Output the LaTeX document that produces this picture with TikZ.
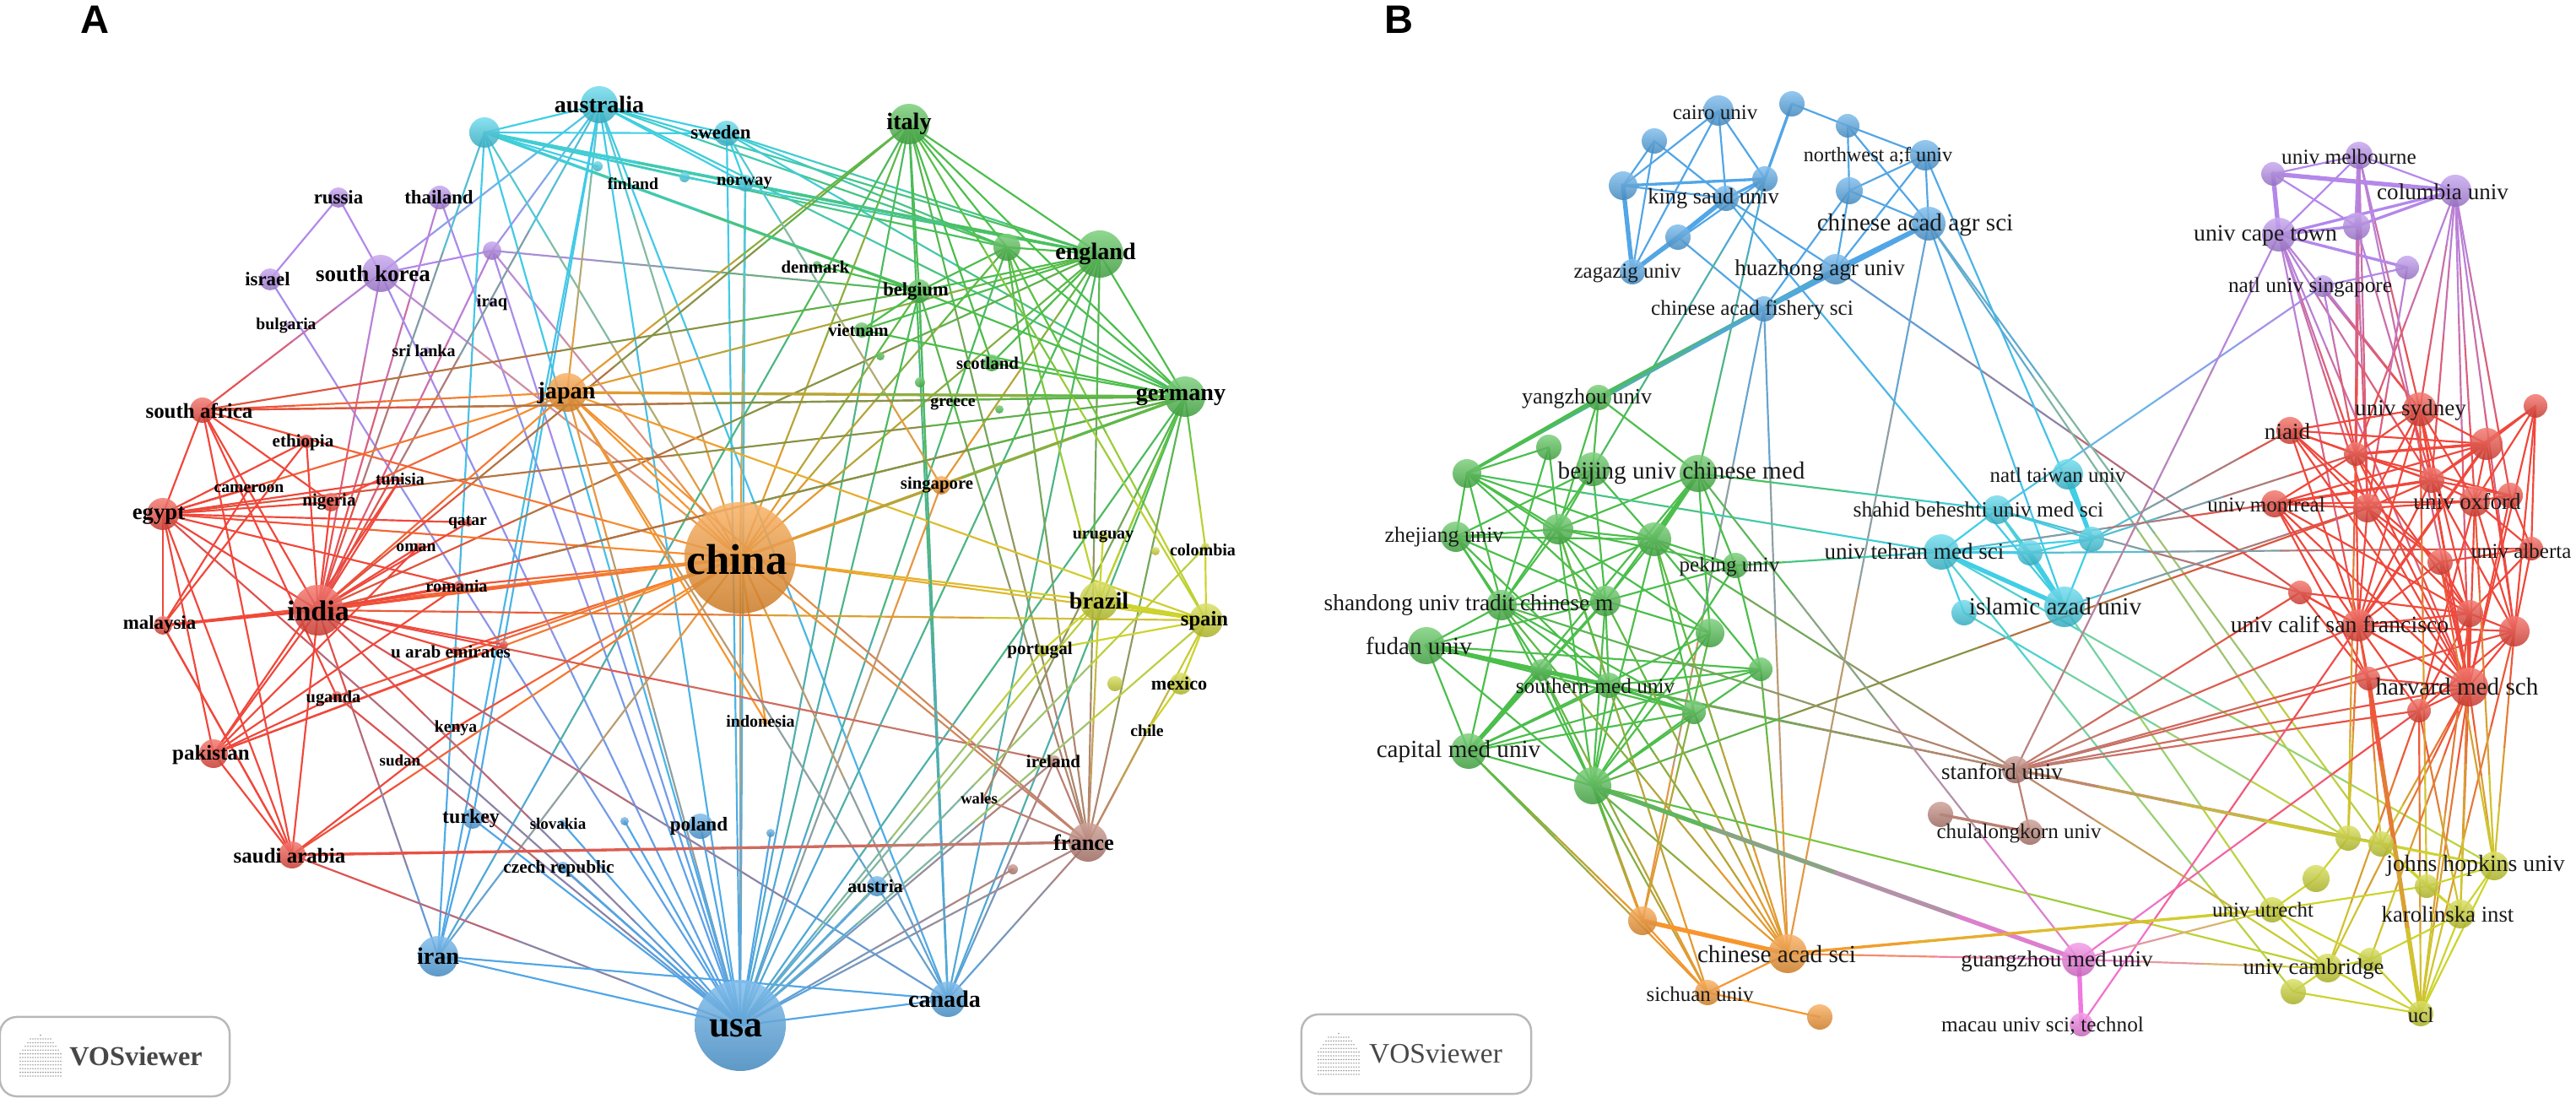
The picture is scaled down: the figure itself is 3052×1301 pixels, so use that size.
\documentclass[tikz,border=0pt]{standalone}
\usepackage{fontspec}
\setmainfont{Liberation Serif}
\newfontfamily\panelfont{Liberation Sans}
\usetikzlibrary{backgrounds, calc}

\definecolor{vred}{HTML}{F0483C}
\definecolor{vgreen}{HTML}{4CBE4C}
\definecolor{vblue}{HTML}{52A6E6}
\definecolor{vorange}{HTML}{F7962E}
\definecolor{vcyan}{HTML}{40CFE6}
\definecolor{vpurple}{HTML}{B488EA}
\definecolor{vyellow}{HTML}{CCD42E}
\definecolor{vbrown}{HTML}{BC8074}
\definecolor{vpink}{HTML}{F078E0}

\tikzset{
  orb/.style={circle, inner sep=0pt, shade, top color=#1!72!white, bottom color=#1!82!black, fill opacity=.86},
  edgeline/.style={line width=.62pt, line cap=round},
  edgethick/.style={line width=1.5pt, line cap=round},
  edgemid/.style={line width=.95pt, line cap=round},
  countrylab/.style={inner sep=0pt, text=black},
  instlab/.style={inner sep=0pt, text=black!90},
  panellab/.style={inner sep=0pt, font=\panelfont\bfseries\fontsize{13.4}{13.4}\selectfont},
  vosbox/.style={draw=black!28, line width=.7pt, rounded corners=.2cm, minimum width=2.72cm, minimum height=.94cm},
  vostext/.style={inner sep=0pt, text=black!72, font=\fontsize{9.5}{9.5}\selectfont}
}

\newcommand{\nlink}[3]{%
  \foreach \ta/\tb/\pc in {0/.25/88, .25/.5/63, .5/.75/37, .75/1/12} {
    \edef\mixcol{\csname nc#1\endcsname!\pc!\csname nc#2\endcsname}
    \draw[#3,color=\mixcol] ($(#1.center)!\ta!(#2.center)$) -- ($(#1.center)!\tb!(#2.center)$);
  }}
\newcommand{\vosdots}[2]{%
  \foreach \i in {-8,...,8} {
    \pgfmathsetmacro{\rows}{int(2+9*sqrt(1-(\i/9)*(\i/9)))}
    \foreach \j in {0,...,\rows}
      \fill[black!38] (#1+\i*3,#2+24-\j*4.4) circle (.9);
  }}

\begin{document}
\begin{tikzpicture}[x=.01cm,y=-.01cm]
  \useasboundingbox (0,0) rectangle (3052,1301);

  % nodes of panel A
  \foreach \n/\x/\y/\r/\cl in {
    au/710/124/22/vcyan, cy/574/157/18/vcyan, fi/708/197/6/vcyan, se/861/158/15/vcyan, no/883/217/10/vcyan, cs/811/210/6/vcyan,
    ru/401/234/12/vpurple, th/521/234/14/vpurple, pd/583/297/11/vpurple, iq/583/359/3/vpurple, sk/451/324/22/vpurple, il/320/331/13/vpurple, bg/342/385/4/vpurple, sl/506/415/4/vpurple,
    jp/672/465/23/vorange, sg/1115/575/11/vorange, id/907/855/4/vorange, cn/877/661/66/vorange,
    za/240/486/15/vred, et/363/523/8/vred, cam/295/579/5/vred, ng/392/595/11/vred, tn/474/568/3/vred, eg/193/609/19/vred, qa/555/619/5/vred, om/496/648/5/vred,
    in/377/723/30/vred, ro/544/694/6/vred, my/193/741/11/vred, ae/540/771/5/vred, ad/597/764/5/vred, ug/399/825/6/vred, ke/542/861/4/vred, sd/474/901/3/vred, pk/253/893/17/vred, sa/346/1013/16/vred,
    tr/560/970/12/vblue, svk/666/975/4/vblue, bd/740/973/5/vblue, cz/667/1028/7/vblue, ir/519/1133/24/vblue, pl/830/979/15/vblue, bu/913/987/5/vblue, at/1039/1050/12/vblue, ca/1123/1184/21/vblue, us/877/1215/54/vblue,
    it/1077/147/24/vgreen, en/1303/301/28/vgreen, ga/1193/293/16/vgreen, dk/968/314/5/vgreen, be/1089/345/14/vgreen, vn/1021/391/9/vgreen, gb/1043/422/5/vgreen, gc/1090/453/6/vgreen, sc/1175/430/10/vgreen, gr/1129/479/3/vgreen, gd/1184/485/5/vgreen, de/1404/470/24/vgreen,
    uy/1307/636/6/vyellow, yd/1369/653/5/vyellow, co/1428/648/5/vyellow, br/1302/712/23/vyellow, es/1429/735/20/vyellow, pt/1235/771/7/vyellow, ye/1321/810/9/vyellow, mx/1399/810/13/vyellow, cl/1359/866/3/vyellow,
    ie/1249/902/7/vbrown, wl/1165/946/3/vbrown, fr/1289/998/23/vbrown, bn/1200/1030/6/vbrown,
  % nodes of panel B
    cairo/2036/131/18/vblue, bl1/2123/123/15/vblue, bl2/2189/149/14/vblue, bl3/1960/167/15/vblue, nwest/2281/184/18/vblue, bl4/1923/220/17/vblue, bl5/2091/212/15/vblue, king/2045/235/15/vblue, bl6/2191/226/16/vblue, caas/2285/265/20/vblue, bl7/1988/281/15/vblue, zaga/1934/322/15/vblue, huaz/2175/319/18/vblue, fish/2090/366/15/vblue,
    yang/1894/471/15/vgreen, gr1/1835/530/15/vgreen, gr2/1887/556/20/vgreen, bucm/2012/561/22/vgreen, gr3/1738/561/17/vgreen, zhej/1725/636/18/vgreen, gr4/1846/627/18/vgreen, gr5/1960/639/20/vgreen, peki/2056/670/15/vgreen, gr6/1779/717/18/vgreen, gr7/1902/712/18/vgreen, fuda/1690/765/22/vgreen, gr8/2026/750/17/vgreen, gr9/2086/793/14/vgreen, gr10/1826/794/13/vgreen, sout/1906/812/15/vgreen, gr11/2007/844/14/vgreen, capi/1740/890/21/vgreen, gr12/1887/931/22/vgreen,
    or1/1946/1091/17/vorange, cacs/2118/1130/23/vorange, sich/2023/1176/15/vorange, or2/2156/1205/15/vorange,
    tehr/2300/654/21/vcyan, shah/2366/604/17/vcyan, taiw/2450/562/18/vcyan, cy1/2478/639/15/vcyan, cy2/2405/655/15/vcyan, isla/2446/719/24/vcyan, cy3/2327/726/15/vcyan,
    melb/2795/184/16/vpurple, pu1/2693/206/14/vpurple, colu/2909/226/19/vpurple, pu2/2792/268/16/vpurple, cape/2700/278/20/vpurple, pu3/2852/317/14/vpurple, natl/2752/339/13/vpurple,
    syd/2867/485/20/vred, re1/3004/481/14/vred, niaid/2713/510/16/vred, re2/2946/526/19/vred, re3/2791/538/14/vred, re4/2881/569/15/vred, re5/2974/587/15/vred, oxf/2932/594/18/vred, mont/2695/597/16/vred, re6/2805/602/17/vred, alb/2999/650/14/vred, re7/2891/666/15/vred, re8/2725/702/14/vred, ucsf/2794/741/19/vred, re9/2926/727/16/vred, re10/2979/748/18/vred, re11/2806/804/14/vred, harv/2925/814/23/vred, re12/2866/842/14/vred,
    stan/2388/912/16/vbrown, br1/2299/965/15/vbrown, chul/2405/986/15/vbrown,
    ye1/2782/993/15/vyellow, ye2/2821/1000/15/vyellow, john/2955/1026/17/vyellow, ye3/2875/1050/14/vyellow, ye4/2744/1041/16/vyellow, karo/2915/1083/17/vyellow, utre/2692/1078/15/vyellow, camb/2758/1147/17/vyellow, ye5/2808/1137/14/vyellow, ye6/2717/1175/15/vyellow, ucl/2868/1201/15/vyellow,
    guan/2463/1137/20/vpink, maca/2466/1214/14/vpink} {
    \node[orb=\cl, minimum size={2*\r*.01cm}] (\n) at (\x,\y) {};
    \expandafter\xdef\csname nc\n\endcsname{\cl}
  }

  \begin{scope}[on background layer]
    % connectors of panel A
    \foreach \a/\b in {
      ru/il, ru/sk, il/us, th/in, th/us, sk/in, sk/za, sk/us, sk/cn, sk/au, sk/pd, pd/be, pd/au, pd/in, pd/cn, pd/us,
      cy/au, cy/se, cy/no, cy/fi, cy/cs, cy/be, cy/ga, cy/en, cy/us, cy/ir, cy/cn, cy/in, au/se, au/en, au/ga, au/de, au/us, au/ir, au/cn, au/in, au/jp, au/no, au/ca, au/tr,
      se/en, se/ga, se/de, se/us, se/no, no/us, no/cn, no/en, cs/en,
      it/en, it/ga, it/de, it/be, it/us, it/cn, it/in, it/sc, it/jp, it/ca, it/fr, it/ir, en/ga, en/de, en/be, en/us, en/cn, en/jp, en/in, en/ca, en/fr, en/sg,
      ga/de, ga/be, ga/us, ga/cn, ga/fr, ga/es, ga/br, de/us, de/cn, de/jp, de/in, de/co, de/br, de/eg, de/za, de/fr, de/ca,
      be/us, be/cn, be/vn, be/de, be/za, be/fr, be/ca, be/dk, sc/de, sc/en, vn/de, vn/en, sg/cn, sg/de, sg/us, sg/se,
      cn/jp, cn/eg, cn/pk, cn/sa, cn/my, cn/ro, cn/za, cn/ae, cn/us, cn/id, cn/es, cn/br, cn/fr, cn/de, cn/ug, cn/ke, cn/ir, cn/ca,
      jp/in, jp/eg, jp/us, jp/de, jp/es, jp/fr, jp/za, jp/ng, jp/id, jp/ca,
      in/eg, in/pk, in/sa, in/za, in/et, in/ng, in/ae, in/tn, in/qa, in/om, in/us, in/ca, in/es, in/ie, in/ir, in/ad, in/de,
      eg/za, eg/my, eg/pk, eg/sa, eg/et, eg/cam, eg/qa, eg/ng, eg/tn, eg/us, eg/ro,
      za/ng, za/ug, za/de, za/sa, my/et, my/cam, my/sa, pk/sa, pk/ug, pk/om, pk/ro, pk/tn, pk/ad, sa/us, sa/fr, sa/ke, sa/my,
      ug/us, tr/us, svk/us, bd/us, cz/us, pl/us, bu/us, at/us, ir/ca, ir/us, ir/tr, ca/us, ca/fr, ca/be, ca/ie, bn/us, ie/us,
      fr/ie, fr/us, fr/cl, fr/br, fr/es, wl/de, wl/fr, br/us, br/de, br/uy, br/pt, es/pt, es/mx, es/co, es/us, mx/cl, co/us, pt/us, es/it} {
      \nlink{\a}{\b}{edgeline}
    }
    % connectors of panel B
    \foreach \a/\b in {
      bl3/bl4, bl3/king, bl3/zaga, cairo/bl4, cairo/bl5, cairo/king, cairo/zaga, bl4/king, bl5/zaga, bl1/bl2, bl2/nwest, bl2/bl6, bl2/caas, nwest/bl6, nwest/caas, nwest/huaz, bl6/caas, bl6/huaz, bl6/fish, bl7/fish, king/huaz, huaz/re8, king/isla, bl5/gr2, bl5/bucm, caas/isla, caas/ye1, caas/ye2, caas/cacs, fish/cacs, fish/or1, fish/yang, nwest/cy1,
      yang/gr3, yang/gr4, yang/gr2, yang/bucm, gr1/gr3, gr1/gr4, gr1/gr6, gr2/gr4, gr2/gr5, gr2/gr7, gr2/zhej, gr2/gr6, bucm/gr4, bucm/gr7, bucm/peki, bucm/gr8, bucm/capi, bucm/shah, gr3/zhej, gr3/gr4, gr3/gr6, gr3/gr7, gr3/gr5, gr3/gr8, gr3/tehr,
      zhej/gr4, zhej/gr6, zhej/gr5, zhej/gr7, zhej/gr10, zhej/sout, gr4/gr6, gr4/gr5, gr4/gr7, gr4/peki, gr4/sout, gr4/gr12, gr5/peki, gr5/gr7, gr5/gr6, gr5/gr9, gr5/gr11, gr5/gr12, gr5/stan, peki/tehr, peki/gr9, peki/gr12, peki/gr7,
      gr6/fuda, gr6/gr7, gr6/capi, gr6/sout, gr6/gr11, gr6/gr12, gr7/fuda, gr7/gr10, gr7/sout, gr7/gr12, gr7/gr8, gr7/capi, fuda/gr9, fuda/gr11, fuda/gr12, fuda/capi, gr8/gr12, gr8/capi, gr9/capi, gr9/sout, gr9/gr12, gr10/sout, gr10/gr12, gr10/stan, sout/capi, sout/gr11, sout/stan, sout/gr12, gr11/capi, gr11/gr12, capi/gr12,
      capi/or1, capi/sich, gr12/or1, gr12/cacs, gr12/sich, gr12/camb, gr12/re6, gr4/sich, gr6/cacs, gr7/cacs, gr5/cacs, gr8/or1, gr9/cacs, gr11/cacs, sout/cacs, gr10/sich, bucm/guan, gr6/stan, or1/sich, cacs/sich, sich/or2, cacs/guan, cacs/utre,
      tehr/shah, tehr/cy3, tehr/cy2, tehr/cy1, shah/cy1, shah/cy2, shah/isla, cy1/cy2, cy1/isla, cy2/alb, isla/re6, cy1/re3, cy1/niaid, tehr/mont, shah/re8, cy3/ye1, tehr/john, shah/utre, tehr/ye6, natl/shah,
      melb/pu1, melb/colu, melb/cape, pu1/pu2, pu3/natl, natl/syd, cape/stan, cape/re3, cape/re6, cape/ucsf, cape/harv, cape/re4, cape/syd, melb/syd, melb/re3, melb/re6, melb/harv, pu2/re3, pu2/re6, pu2/re4, colu/syd, colu/re3, colu/re4, colu/oxf, colu/re5, colu/harv, colu/re10, pu3/re6, natl/re3,
      syd/re2, syd/re3, syd/re4, syd/niaid, syd/oxf, syd/re6, syd/ucsf, syd/re9, syd/harv, re1/re2, re1/re4, re1/oxf, re1/alb, re1/re10, re1/harv, niaid/re2, niaid/re3, niaid/re4, niaid/ucsf, niaid/re9, niaid/harv, niaid/re7, re2/re3, re2/re4, re2/mont, re2/oxf, re2/re10, re3/re4, re3/re5, re3/mont, re3/re9, re3/harv, re3/ucsf, re4/re5, re4/oxf, re4/mont, re4/re6, re4/ucsf, re4/harv, re4/re10, re5/oxf, re5/alb, re5/harv, oxf/alb, oxf/mont, oxf/re6, oxf/re10, oxf/harv, oxf/re12, mont/re6, mont/ucsf, mont/re9, mont/harv, mont/re11, re6/re7, re6/ucsf, re6/harv, alb/re10, alb/re9, alb/re7, re7/re9, re7/ucsf, re7/harv, re8/ucsf, re8/re9, re8/harv, re8/re11, ucsf/re9, ucsf/re10, ucsf/harv, ucsf/re11, ucsf/re12, re9/re10, re9/harv, re9/re12, re10/harv, re10/re12, re11/harv, harv/re12,
      stan/ucsf, stan/re11, stan/re12, stan/harv, stan/re8, stan/re10, stan/chul, stan/ye1, stan/john, stan/camb, harv/john, harv/karo, harv/ye5, harv/camb, harv/ye2, harv/ucl, re12/karo, re12/camb, re12/ucl, re10/john, re10/ucl, ucsf/ye1, ucsf/ucl, re11/ye2, re9/karo, re9/ucl, re7/john, re3/ye1, oxf/john, syd/ye3,
      ye1/ye2, ye1/ye4, ye4/utre, ye1/john, ye2/john, ye2/ye3, ye2/karo, john/ye3, john/karo, ye3/karo, john/ucl, karo/ye5, karo/ucl, utre/ye3, utre/camb, utre/ye5, camb/ye6, camb/ye5, camb/ucl, ye5/ucl, ye6/ucl,
      guan/re12, maca/ucsf, guan/camb, guan/utre} {
      \nlink{\a}{\b}{edgeline}
    }
    % heavier connectors
    \foreach \a/\b/\w in {
      cy/en/edgemid, cy/be/edgemid, br/es/edgethick, in/my/edgemid, in/ro/edgemid, cn/in/edgemid, cn/de/edgemid, jp/de/edgemid, sa/fr/edgemid,
      bl4/bl5/edgemid, bl4/zaga/edgethick, bl5/king/edgemid, king/bl7/edgethick, king/zaga/edgemid, bl7/zaga/edgethick, bl1/bl5/edgemid, caas/huaz/edgethick, caas/fish/edgethick, huaz/fish/edgethick, huaz/yang/edgethick, fish/gr3/edgemid, yang/gr3/edgemid,
      bucm/gr5/edgethick, fuda/sout/edgethick, fuda/gr10/edgemid, gr7/capi/edgemid, gr10/capi/edgethick, sout/gr11/edgemid, gr12/guan/edgethick, or1/cacs/edgethick, or1/gr12/edgemid,
      taiw/cy1/edgethick, tehr/isla/edgethick, cy2/isla/edgethick, tehr/cy2/edgemid,
      melb/pu2/edgethick, pu1/cape/edgethick, pu1/colu/edgethick, colu/pu2/edgemid, colu/cape/edgemid, cape/pu2/edgemid, cape/pu3/edgemid, melb/re3/edgemid,
      re3/re2/edgemid, mont/re4/edgemid, re2/ucsf/edgemid, re9/harv/edgemid, re11/ucl/edgethick, br1/chul/edgemid, stan/ye1/edgemid, guan/maca/edgethick, cacs/utre/edgemid} {
      \nlink{\a}{\b}{\w}
    }
  \end{scope}

  % labels of panel A
  \foreach \n/\x/\y/\fs/\lab in {
    australia/710/124/8/australia, finland/750/218/5.6/finland, sweden/854/157/6.5/sweden, norway/882/217/5.8/norway, russia/401/234/6.5/russia, thailand/520/234/6.5/thailand, iraq/583/359/5.8/iraq, skorea/442/324/7.7/south korea, israel/317/331/6.5/israel, bulgaria/339/386/5.6/bulgaria, srilanka/502/416/5.7/sri lanka, japan/671/466/8/japan, safrica/236/487/7.1/south africa, ethiopia/359/524/6/ethiopia, cameroon/295/579/5.6/cameroon, nigeria/390/595/6/nigeria, tunisia/474/568/5.7/tunisia, egypt/188/611/7.6/egypt, qatar/554/619/5.6/qatar, oman/493/649/5.6/oman, india/377/724/9.7/india, romania/541/695/5.8/romania, malaysia/189/740/6.5/malaysia, uae/534/772/6/u arab emirates, uganda/395/828/5.8/uganda, kenya/540/863/5.6/kenya, sudan/474/901/5.4/sudan, pakistan/250/894/7.1/pakistan, saudi/343/1014/7.1/saudi arabia, turkey/558/970/6.8/turkey, slovakia/661/976/5.4/slovakia, czech/662/1029/6.1/czech republic, iran/519/1133/8/iran,
    italy/1077/147/8/italy, england/1298/301/8/england, denmark/966/316/5.9/denmark, belgium/1085/345/6.4/belgium, vietnam/1017/391/5.9/vietnam, scotland/1170/430/5.9/scotland, greece/1129/479/5.6/greece, germany/1399/470/8/germany, singapore/1110/575/5.9/singapore, china/873/663/14.5/china, uruguay/1307/636/5.7/uruguay, colombia/1425/652/5.7/colombia, brazil/1302/712/8/brazil, spain/1427/736/7/spain, portugal/1232/771/6/portugal, mexico/1397/810/6.3/mexico, chile/1359/866/5.6/chile, indonesia/901/855/5.7/indonesia, ireland/1248/902/6/ireland, wales/1160/946/5.3/wales, france/1284/998/7.5/france, poland/828/979/6.6/poland, austria/1037/1050/6.2/austria, canada/1119/1184/8/canada, usa/872/1218/12.5/usa} {
    \node[countrylab, font=\bfseries\fontsize{\fs}{\fs}\selectfont] (lab\n) at (\x,\y) {\lab};
  }
  % labels of panel B
  \foreach \n/\x/\y/\fs/\lab in {
    cairo/2032/133/7.1/cairo univ, nwest/2225/185/6.9/northwest a;f univ, king/2030/235/7.5/king saud univ, caas/2269/267/8.3/chinese acad agr sci, zaga/1928/324/7.1/zagazig univ, huaz/2156/320/7.7/huazhong agr univ, fish/2076/367/7.2/chinese acad fishery sci, yang/1880/472/7.4/yangzhou univ, bucm/1992/561/8.3/beijing univ chinese med, zhej/1711/636/7.4/zhejiang univ, peki/2049/672/7.1/peking univ, shan/1740/717/7.8/shandong univ tradit chinese m, fuda/1681/765/8.3/fudan univ, sout/1890/813/7.2/southern med univ, capi/1728/890/8.3/capital med univ, cacs/2105/1131/8.3/chinese acad sci, sich/2014/1178/7.1/sichuan univ,
    tehr/2268/653/7.7/univ tehran med sci, shah/2344/604/7.3/shahid beheshti univ med sci, taiw/2438/563/7.1/natl taiwan univ, isla/2435/719/8.3/islamic azad univ,
    melb/2783/186/7.2/univ melbourne, colu/2894/227/7.7/columbia univ, cape/2684/279/7.9/univ cape town, natl/2737/340/7.2/natl univ singapore, syd/2856/486/7.7/univ sydney, niaid/2710/511/7.7/niaid, oxf/2923/594/7.7/univ oxford, mont/2685/598/7.1/univ montreal, alb/2987/653/7.1/univ alberta, ucsf/2772/740/7.9/univ calif san francisco, harv/2911/814/8.3/harvard med sch,
    stan/2372/914/7.7/stanford univ, chul/2392/988/7.1/chulalongkorn univ, john/2933/1026/7.9/johns hopkins univ, karo/2900/1083/7.6/karolinska inst, utre/2681/1078/7.1/univ utrecht, camb/2741/1148/7.6/univ cambridge, ucl/2868/1203/7.1/ucl, guan/2437/1139/7.7/guangzhou med univ, maca/2420/1216/7.2/macau univ sci; technol} {
    \node[instlab, font=\fontsize{\fs}{\fs}\selectfont] (txt\n) at (\x,\y) {\lab};
  }

  \node[panellab] (panelA) at (113,23) {A};
  \node[panellab] (panelB) at (1657,23) {B};

  \node[vosbox] (vosboxA) at (136,1252) {};
  \vosdots{48}{1251}
  \node[vostext, font=\bfseries\fontsize{9.2}{9.2}\selectfont] (vostextA) at (161,1252) {VOSviewer};
  \node[vosbox] (vosboxB) at (1678,1249) {};
  \vosdots{1586}{1249}
  \node[vostext] (vostextB) at (1701,1249) {VOSviewer};
\end{tikzpicture}
\end{document}
